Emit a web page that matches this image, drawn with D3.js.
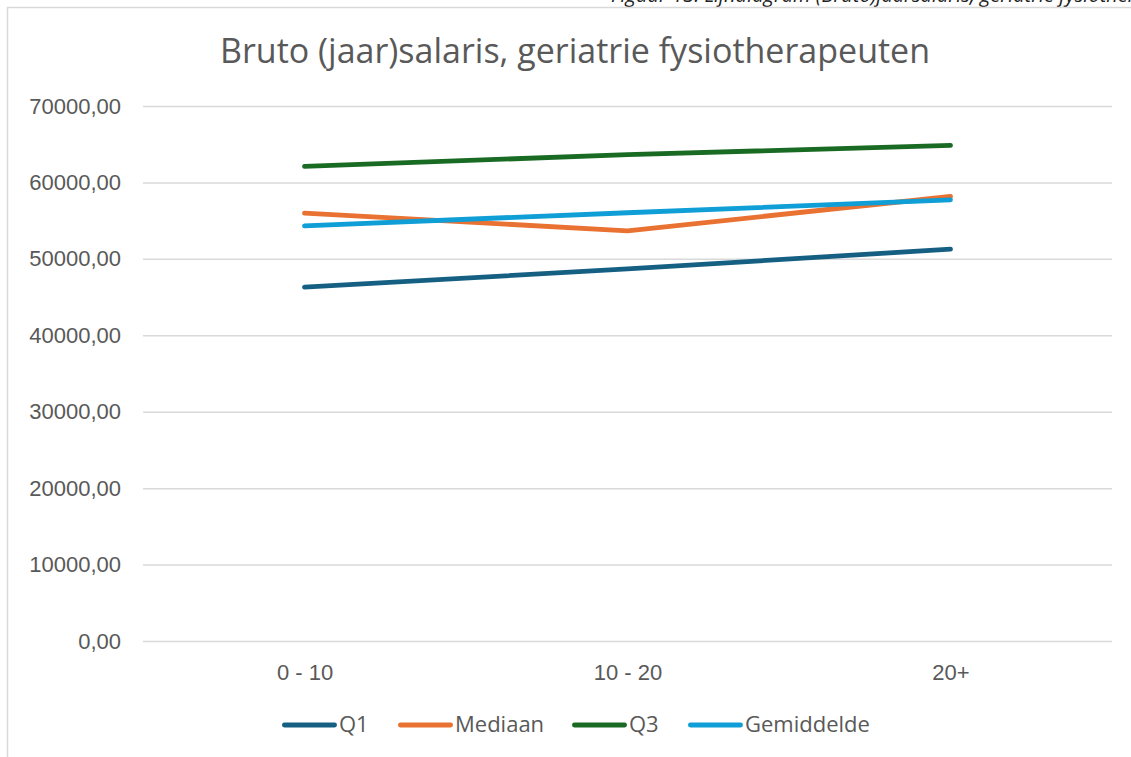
<!DOCTYPE html>
<html>
<head>
<meta charset="utf-8">
<script src="https://cdn.jsdelivr.net/npm/d3@7"></script>
<style>
  body { margin: 0; background: #fff; }
  svg { display: block; font-family: "Open Sans", "Noto Sans", sans-serif; }
</style>
</head>
<body>
<script>
/* Lijndiagram bruto jaarsalaris */

const categories = ["0 - 10", "10 - 20", "20+"];
const seriesNames = ["Q1", "Mediaan", "Q3", "Gemiddelde"];
const q1 = [46290, 48690, 51270];
const mediaan = [55990, 53670, 58160];
const q3 = [62100, 63630, 64850];
const gemiddelde = [54320, 56030, 57730];
const yTicks = [0, 10000, 20000, 30000, 40000, 50000, 60000, 70000];
const colors = ["#156082", "#E97132", "#196B24", "#0F9ED5"];

const series = [q1, mediaan, q3, gemiddelde].map((v, i) => ({ name: seriesNames[i], values: v, color: colors[i] }));

/* Chartsize */

const w = 1131,
      h = 757,
      plotLeft = 143,
      plotRight = 1112,
      plotTop = 106,
      plotBottom = 641;

const svg = d3.select("body").append("svg")
  .attr("width", w)
  .attr("height", h);

/* Caption (cut off at top, as in the source document) */

svg.append("text")
  .attr("x", 611)
  .attr("y", 2)
  .attr("font-size", 20)
  .attr("font-style", "italic")
  .attr("fill", "#222")
  .text("Figuur 13: Lijndiagram (Bruto)jaarsalaris, geriatrie fysiotherapeuten");

/* Frame */

svg.append("rect")
  .attr("x", 7.5)
  .attr("y", 7.5)
  .attr("width", w)
  .attr("height", h)
  .attr("fill", "none")
  .attr("stroke", "#d9d9d9")
  .attr("stroke-width", 1.5);

/* Scales */

const x = d3.scalePoint().domain(categories).range([plotLeft, plotRight]).padding(0.5);
const y = d3.scaleLinear().domain([0, 70000]).range([plotBottom, plotTop]);

/* Title */

svg.append("text")
  .attr("x", 575)
  .attr("y", 63)
  .attr("text-anchor", "middle")
  .attr("font-size", 34)
  .attr("fill", "#595959")
  .text("Bruto (jaar)salaris, geriatrie fysiotherapeuten");

/* Grid + y axis */

const fmt = d => d3.format(".2f")(d).replace(".", ",");

const yAxis = svg.append("g")
  .attr("transform", "translate(" + plotLeft + ",0)")
  .call(d3.axisLeft(y).tickValues(yTicks).tickSize(-(plotRight - plotLeft)).tickPadding(22).tickFormat(fmt));
yAxis.select(".domain").remove();
yAxis.selectAll("line").attr("stroke", "#d9d9d9").attr("stroke-width", 1.5);
yAxis.selectAll("text").attr("fill", "#595959").attr("font-size", 22).attr("font-family", null);

/* x axis */

const xAxis = svg.append("g")
  .attr("transform", "translate(0," + plotBottom + ")")
  .call(d3.axisBottom(x).tickSize(0).tickPadding(23));
xAxis.select(".domain").remove();
xAxis.selectAll("text").attr("fill", "#595959").attr("font-size", 22).attr("font-family", null);

/* Lines */

const line = d3.line()
  .x((d, i) => x(categories[i]))
  .y(d => y(d));

svg.append("g").selectAll("path")
  .data(series)
  .enter()
  .append("path")
  .attr("d", d => line(d.values))
  .attr("fill", "none")
  .attr("stroke", d => d.color)
  .attr("stroke-width", 4.8)
  .attr("stroke-linecap", "round")
  .attr("stroke-linejoin", "round");

/* Legend */

const legendX = [282, 398, 572, 688];
const legend = svg.append("g").attr("transform", "translate(0,725)");

const item = legend.selectAll("g")
  .data(series)
  .enter()
  .append("g")
  .attr("transform", (d, i) => "translate(" + legendX[i] + ",0)");

item.append("line")
  .attr("x1", 2.4)
  .attr("x2", 52.6)
  .attr("stroke", d => d.color)
  .attr("stroke-width", 4.8)
  .attr("stroke-linecap", "round");

item.append("text")
  .attr("x", 57)
  .attr("y", 7)
  .attr("font-size", 22)
  .attr("fill", "#595959")
  .text(d => d.name);
</script>
</body>
</html>
